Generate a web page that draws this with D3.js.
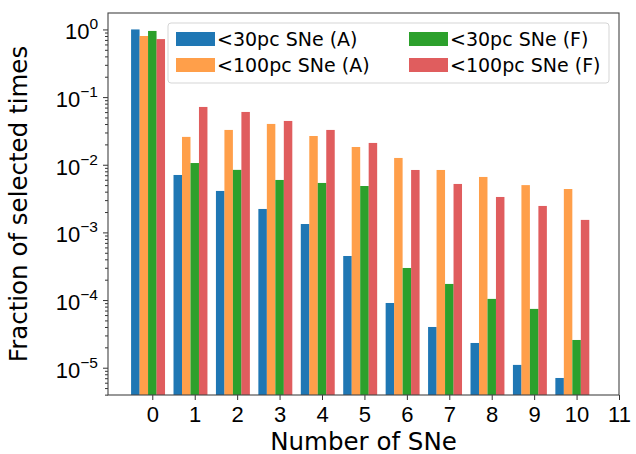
<!DOCTYPE html>
<html>
<head>
<meta charset="utf-8">
<script src="https://cdn.jsdelivr.net/npm/d3@7"></script>
<style>
  body { margin: 0; background: #fff; }
  svg { display: block; font-family: "DejaVu Sans", sans-serif; }
</style>
</head>
<body>
<div id="chart"></div>
<script>
// number of supernovae on the x axis
var nSNe = [0, 1, 2, 3, 4, 5, 6, 7, 8, 9, 10];

// fraction of selected times for each series
var near30A = [1.0, 7.06e-3, 4.1e-3, 2.22e-3, 1.33e-3, 4.48e-4, 9.05e-5, 4.0e-5, 2.32e-5, 1.1e-5, 7.05e-6];
var near100A = [0.80, 0.0258, 0.0327, 0.0401, 0.0266, 0.0183, 0.0126, 8.37e-3, 6.6e-3, 5.0e-3, 4.38e-3];
var near30F = [0.95, 0.0106, 8.4e-3, 5.96e-3, 5.38e-3, 4.85e-3, 2.98e-4, 1.73e-4, 1.04e-4, 7.4e-5, 2.57e-5];
var near100F = [0.72, 0.0715, 0.0603, 0.0444, 0.0327, 0.021, 8.37e-3, 5.2e-3, 3.34e-3, 2.46e-3, 1.53e-3];

var seriesNames = ["<30pc SNe (A)", "<100pc SNe (A)", "<30pc SNe (F)", "<100pc SNe (F)"];
var xTickLabels = [0, 1, 2, 3, 4, 5, 6, 7, 8, 9, 10, 11];
var yTickExponents = [0, -1, -2, -3, -4, -5];

var series = [
  { name: seriesNames[0], values: near30A, offset: -0.4, color: "#1f77b4", opacity: 1 },
  { name: seriesNames[1], values: near100A, offset: -0.2, color: "#ff7f0e", opacity: 0.75 },
  { name: seriesNames[2], values: near30F, offset: 0, color: "#2ca02c", opacity: 1 },
  { name: seriesNames[3], values: near100F, offset: 0.2, color: "#d62728", opacity: 0.75 }
];
var barWidth = 0.2;

var W = 636, H = 454;
var margin = { top: 13, right: 17, bottom: 59, left: 108 };
var width = W - margin.left - margin.right,
  height = H - margin.top - margin.bottom;

var svg = d3.select("#chart").append("svg")
  .attr("width", W)
  .attr("height", H);

var g = svg.append("g")
  .attr("transform", "translate(" + margin.left + "," + margin.top + ")");

var x = d3.scaleLinear()
  .domain([-1.044, 11])
  .range([0, width]);

var y = d3.scaleLog()
  .domain([3.95e-6, 1.75])
  .range([height, 0]);

// bars
series.forEach(function (s) {
  g.append("g")
    .selectAll("rect")
    .data(s.values)
    .enter()
    .append("rect")
    .attr("x", function (d, i) { return x(nSNe[i] + s.offset - barWidth / 2); })
    .attr("width", x(barWidth) - x(0))
    .attr("y", function (d) { return y(d); })
    .attr("height", function (d) { return height - y(d); })
    .style("fill", s.color)
    .style("fill-opacity", s.opacity);
});

// x axis
var xAxis = g.append("g")
  .attr("transform", "translate(0," + height + ")")
  .call(d3.axisBottom(x).tickValues(xTickLabels).tickSize(5).tickPadding(6).tickSizeOuter(0));
xAxis.selectAll("text").style("font-size", "22px").style("fill", "#000");

// y axis: minor ticks
var minor = y.ticks().filter(function (d) {
  var e = Math.log10(d);
  return Math.abs(e - Math.round(e)) > 1e-6;
});
var yMinor = g.append("g")
  .call(d3.axisLeft(y).tickValues(minor).tickSize(3).tickFormat("").tickSizeOuter(0));

var majors = yTickExponents.map(function (e) { return Math.pow(10, e); });
var yAxis = g.append("g")
  .call(d3.axisLeft(y).tickValues(majors).tickSize(5).tickFormat("").tickSizeOuter(0));

yAxis.selectAll(".tick").each(function (d, i) {
  var e = yTickExponents[i];
  var t = d3.select(this).append("text")
    .attr("x", -10)
    .attr("y", 9.5)
    .attr("text-anchor", "end")
    .style("font-size", "22px")
    .style("fill", "#000");
  t.append("tspan").text("10");
  t.append("tspan")
    .attr("dy", -10)
    .style("font-size", "15.5px")
    .text(e === 0 ? "0" : "\u2212" + Math.abs(e));
});

[xAxis, yAxis, yMinor].forEach(function (a) {
  a.selectAll("line").style("stroke", "#333").style("stroke-width", 1);
  a.select(".domain").remove();
});

// frame
g.append("rect")
  .attr("x", 0)
  .attr("y", 0)
  .attr("width", width)
  .attr("height", height)
  .style("fill", "none")
  .style("stroke", "#444")
  .style("stroke-width", 1.1);

// axis labels
svg.append("text")
  .attr("x", margin.left + width / 2)
  .attr("y", 450)
  .attr("text-anchor", "middle")
  .style("font-size", "24.5px")
  .text("Number of SNe");

svg.append("text")
  .attr("transform", "translate(27," + (margin.top + height / 2) + ") rotate(-90)")
  .attr("text-anchor", "middle")
  .style("font-size", "24.5px")
  .text("Fraction of selected times");

// legend
var legend = svg.append("g").attr("transform", "translate(168,23)");
legend.append("rect")
  .attr("width", 441)
  .attr("height", 60)
  .attr("rx", 3)
  .style("fill", "#fff")
  .style("fill-opacity", 0.8)
  .style("stroke", "#d5d5d5")
  .style("stroke-width", 1);

var items = legend.selectAll(".item")
  .data(series)
  .enter().append("g")
  .attr("class", "item")
  .attr("transform", function (d, i) {
    var col = Math.floor(i / 2), row = i % 2;
    return "translate(" + (8 + col * 233) + "," + (9 + row * 26) + ")";
  });

items.append("rect")
  .attr("width", 39)
  .attr("height", 14)
  .style("fill", function (d) { return d.color; })
  .style("fill-opacity", function (d) { return d.opacity; });

items.append("text")
  .attr("x", 41)
  .attr("y", 14)
  .style("font-size", "19px")
  .text(function (d) { return d.name; });
</script>
</body>
</html>
